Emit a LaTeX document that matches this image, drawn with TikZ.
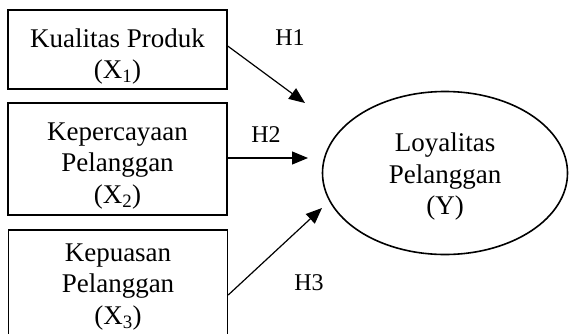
\documentclass[tikz,border=0pt]{standalone}
\usepackage{fontspec}
\setmainfont{Liberation Serif}
\usetikzlibrary{arrows.meta,shapes.geometric}
\begin{document}
\begin{tikzpicture}[x=1pt,y=1pt,
  txt/.style={font=\fontsize{27}{31.5}\selectfont, align=center, inner sep=0pt},
  varbox/.style={draw, line width=1.4pt, minimum width=219pt, inner sep=0pt},
  arr/.style={line width=1.2pt, -{Triangle[length=16pt,width=13pt]}},
  lbl/.style={font=\fontsize{24}{28}\selectfont, inner sep=0pt}]
\useasboundingbox (0,0) rectangle (569,333);
\clip (0,0) rectangle (569,333);
\node[varbox, minimum height=79pt] (b1) at (117.5,283.5) {};
\node[txt] (b1t) at ([yshift=-7pt]b1.center) {Kualitas Produk\\(X\textsubscript{1})};
\node[varbox, minimum height=112pt] (b2) at (117.5,174) {};
\node[txt] (b2t) at ([yshift=-7pt]b2.center) {Kepercayaan\\Pelanggan\\(X\textsubscript{2})};
\node[varbox, minimum height=120pt] (b3) at (118,43) {};
\node[txt] (b3t) at ([yshift=3pt]b3.center) {Kepuasan\\Pelanggan\\(X\textsubscript{3})};
\node[draw, ellipse, line width=1.6pt, minimum width=245pt, minimum height=163pt] (y) at (445,160) {};
\node[txt] (yt) at ([yshift=-4pt]y.center) {Loyalitas\\Pelanggan\\(Y)};
\coordinate (t1) at (305,230);
\coordinate (t2) at (308,175);
\coordinate (t3) at (322,125);
\draw[arr] (b1.east |- 0,287) -- (t1);
\draw[arr] (b2.east |- 0,175) -- (t2);
\draw[arr] (b3.east |- 0,38) -- (t3);
\node[lbl] (h1) at (290,295) {H1};
\node[lbl] (h2) at (266,198) {H2};
\node[lbl] (h3) at (309,50) {H3};
\end{tikzpicture}
\end{document}
